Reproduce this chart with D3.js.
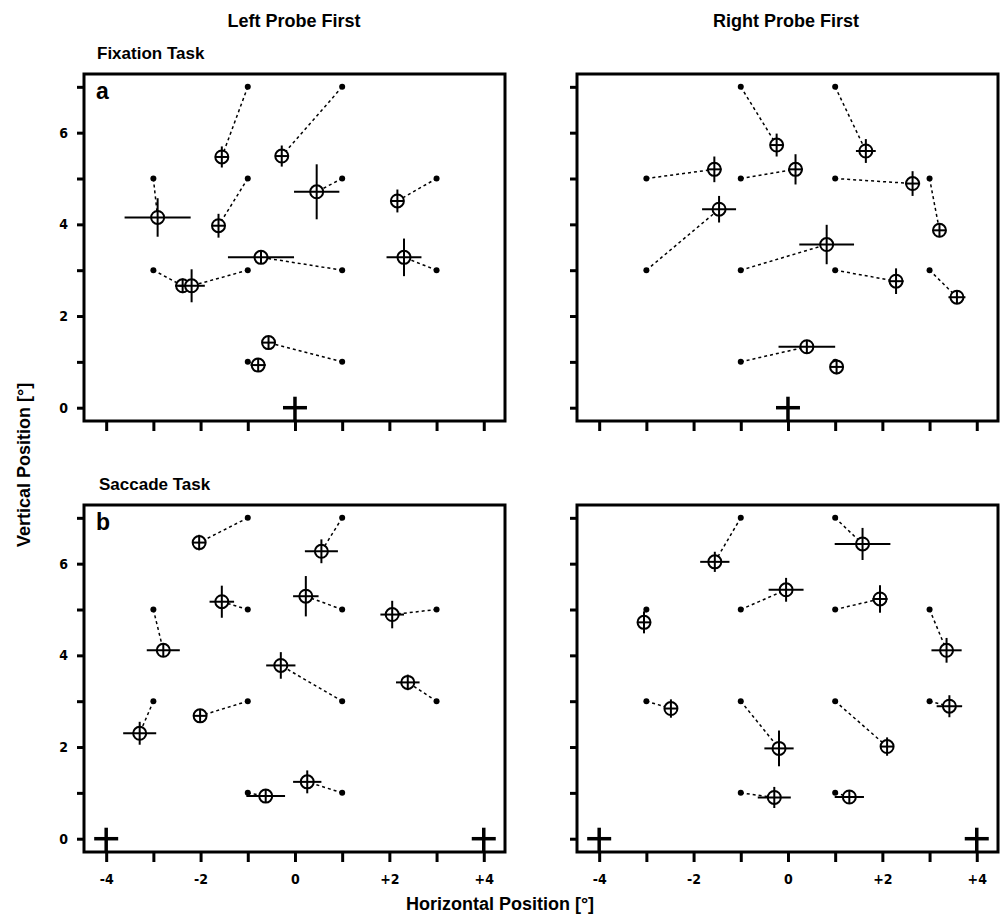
<!DOCTYPE html>
<html>
<head>
<meta charset="utf-8">
<script src="https://cdn.jsdelivr.net/npm/d3@7"></script>
<style>
  body { margin: 0; background: #fff; }
  text { font-family: "Liberation Sans", Arial, sans-serif; font-weight: bold; fill: #000; }
  .tick text { font-family: "Liberation Sans Narrow", "DejaVu Sans Condensed", "Liberation Sans", sans-serif; font-size: 14px; }
</style>
</head>
<body>
<div id="chart"></div>
<script>
// target grid (deg) -- same order is used by every response array below
var targets = [[-1,7],[1,7],[-3,5],[-1,5],[1,5],[3,5],[-3,3],[-1,3],[1,3],[3,3],[-1,1],[1,1]];

// responses: [x, y, half-width of x error bar, half-height of y error bar]
var fixLeft = [
  [-1.55, 5.47, 0.12, 0.23], [-0.28, 5.49, 0.14, 0.23], [-2.91, 4.15, 0.70, 0.42],
  [-1.62, 3.97, 0.10, 0.26], [ 0.46, 4.71, 0.48, 0.60], [ 2.17, 4.51, 0.13, 0.25],
  [-2.38, 2.66, 0.16, 0.16], [-2.19, 2.66, 0.28, 0.36], [-0.72, 3.28, 0.70, 0.12],
  [ 2.31, 3.28, 0.37, 0.41], [-0.78, 0.93, 0.16, 0.08], [-0.56, 1.42, 0.13, 0.11]
];
var fixRight = [
  [-0.24, 5.73, 0.10, 0.25], [ 1.65, 5.60, 0.21, 0.26], [-1.56, 5.20, 0.15, 0.28],
  [ 0.16, 5.20, 0.15, 0.33], [ 2.64, 4.89, 0.16, 0.27], [ 3.21, 3.87, 0.10, 0.15],
  [-1.46, 4.33, 0.36, 0.29], [ 0.82, 3.56, 0.58, 0.43], [ 2.29, 2.76, 0.16, 0.28],
  [ 3.58, 2.41, 0.18, 0.12], [ 0.40, 1.33, 0.60, 0.15], [ 1.03, 0.89, 0.13, 0.16]
];
var sacLeft = [
  [-2.03, 6.46, 0.13, 0.17], [ 0.56, 6.27, 0.35, 0.26], [-2.79, 4.11, 0.35, 0.10],
  [-1.55, 5.17, 0.26, 0.35], [ 0.23, 5.29, 0.27, 0.44], [ 2.06, 4.89, 0.25, 0.30],
  [-3.29, 2.30, 0.35, 0.25], [-2.01, 2.68, 0.13, 0.13], [-0.30, 3.78, 0.31, 0.29],
  [ 2.39, 3.41, 0.25, 0.17], [-0.62, 0.93, 0.41, 0.08], [ 0.26, 1.24, 0.30, 0.25]
];
var sacRight = [
  [-1.55, 6.04, 0.31, 0.22], [ 1.58, 6.43, 0.59, 0.35], [-3.05, 4.72, 0.08, 0.24],
  [-0.04, 5.43, 0.37, 0.26], [ 1.95, 5.23, 0.16, 0.30], [ 3.36, 4.11, 0.32, 0.27],
  [-2.48, 2.84, 0.14, 0.20], [-0.19, 1.97, 0.31, 0.39], [ 2.10, 2.01, 0.12, 0.20],
  [ 3.42, 2.89, 0.27, 0.24], [-0.29, 0.90, 0.35, 0.23], [ 1.30, 0.91, 0.31, 0.15]
];

// fixation crosses
var fixCrossA = [[0, 0]];
var fixCrossB = [[-4, 0], [4, 0]];

var xTicks = [-4, -3, -2, -1, 0, 1, 2, 3, 4];
var yTicks = [0, 1, 2, 3, 4, 5, 6, 7];

var width = 1000, height = 919;
var svg = d3.select("#chart").append("svg")
    .attr("width", width)
    .attr("height", height);

var pw = 421, ph = 347;
var panels = [
  {left: 84,  top: 74,  data: fixLeft,  cross: fixCrossA, letter: "a", xlab: false, ylab: true},
  {left: 577, top: 74,  data: fixRight, cross: fixCrossA, letter: "",  xlab: false, ylab: false},
  {left: 84,  top: 505, data: sacLeft,  cross: fixCrossB, letter: "b", xlab: true,  ylab: true},
  {left: 577, top: 505, data: sacRight, cross: fixCrossB, letter: "",  xlab: true,  ylab: false}
];

var x = d3.scaleLinear().domain([-4.47, 4.45]).range([0, pw]);
var y = d3.scaleLinear().domain([-0.29, 7.28]).range([ph, 0]);
var R = 6.5; // marker radius

panels.forEach(function(p, pi) {
  var g = svg.append("g").attr("transform", "translate(" + p.left + "," + p.top + ")");

  // axes
  var xa = d3.axisBottom(x).tickValues(xTicks).tickSizeInner(10).tickSizeOuter(0).tickPadding(12)
      .tickFormat(function(d) { return p.xlab && d % 2 === 0 ? (d > 0 ? "+" + d : d) : ""; });
  var ya = d3.axisLeft(y).tickValues(yTicks).tickSizeInner(7).tickSizeOuter(0).tickPadding(9)
      .tickFormat(function(d) { return p.ylab && d % 2 === 0 ? d : ""; });

  var gx = g.append("g").attr("transform", "translate(0," + ph + ")").call(xa);
  var gy = g.append("g").call(ya);
  [gx, gy].forEach(function(a) {
    a.select(".domain").remove();
    a.selectAll(".tick line").attr("stroke", "#000").attr("stroke-width", 3);
    a.selectAll(".tick text").attr("fill", "#000");
  });

  var clipId = "clip" + pi;
  g.append("clipPath").attr("id", clipId).append("rect").attr("width", pw).attr("height", ph);
  var inner = g.append("g").attr("clip-path", "url(#" + clipId + ")");

  // dotted connectors
  inner.selectAll(".conn").data(p.data).enter().append("line")
      .attr("x1", function(d, i) { return x(targets[i][0]); })
      .attr("y1", function(d, i) { return y(targets[i][1]); })
      .attr("x2", function(d) { return x(d[0]); })
      .attr("y2", function(d) { return y(d[1]); })
      .attr("stroke", "#000").attr("stroke-width", 1.5)
      .attr("stroke-dasharray", "3,3");

  // target dots
  inner.selectAll(".tgt").data(targets).enter().append("circle")
      .attr("cx", function(d) { return x(d[0]); })
      .attr("cy", function(d) { return y(d[1]); })
      .attr("r", 3).attr("fill", "#000");

  var resp = inner.selectAll(".resp").data(p.data).enter().append("g")
      .attr("transform", function(d) { return "translate(" + x(d[0]) + "," + y(d[1]) + ")"; });

  resp.append("circle").attr("r", R).attr("fill", "#fff").attr("stroke", "#000").attr("stroke-width", 2);
  // horizontal error bar / inner cross
  resp.append("line")
      .attr("x1", function(d) { return Math.min(-R, x(d[0] - d[2]) - x(d[0])); })
      .attr("x2", function(d) { return Math.max(R, x(d[0] + d[2]) - x(d[0])); })
      .attr("stroke", "#000").attr("stroke-width", 2);
  // vertical error bar / inner cross
  resp.append("line")
      .attr("y1", function(d) { return Math.min(-R, y(d[1] + d[3]) - y(d[1])); })
      .attr("y2", function(d) { return Math.max(R, y(d[1] - d[3]) - y(d[1])); })
      .attr("stroke", "#000").attr("stroke-width", 2);

  // fixation crosses
  var fc = inner.selectAll(".fix").data(p.cross).enter().append("g")
      .attr("transform", function(d) { return "translate(" + x(d[0]) + "," + y(d[1]) + ")"; });
  fc.append("line").attr("x1", -12).attr("x2", 12).attr("stroke", "#000").attr("stroke-width", 3.5);
  fc.append("line").attr("y1", -11).attr("y2", 14).attr("stroke", "#000").attr("stroke-width", 3.5);

  // frame
  g.append("rect").attr("width", pw).attr("height", ph)
      .attr("fill", "none").attr("stroke", "#000").attr("stroke-width", 3);

  if (p.letter) {
    g.append("text").attr("x", 12).attr("y", 25).style("font-size", "23px").text(p.letter);
  }
});

// titles
svg.append("text").attr("x", 294).attr("y", 27).attr("text-anchor", "middle")
    .style("font-size", "18px").text("Left Probe First");
svg.append("text").attr("x", 786).attr("y", 27).attr("text-anchor", "middle")
    .style("font-size", "18px").text("Right Probe First");
svg.append("text").attr("x", 97).attr("y", 59)
    .style("font-size", "17px").text("Fixation Task");
svg.append("text").attr("x", 99).attr("y", 490)
    .style("font-size", "17px").text("Saccade Task");
svg.append("text").attr("x", 500).attr("y", 910).attr("text-anchor", "middle")
    .style("font-size", "18px").text("Horizontal Position [°]");
svg.append("text").attr("transform", "translate(30,465) rotate(-90)").attr("text-anchor", "middle")
    .style("font-size", "18px").text("Vertical Position [°]");
</script>
</body>
</html>
